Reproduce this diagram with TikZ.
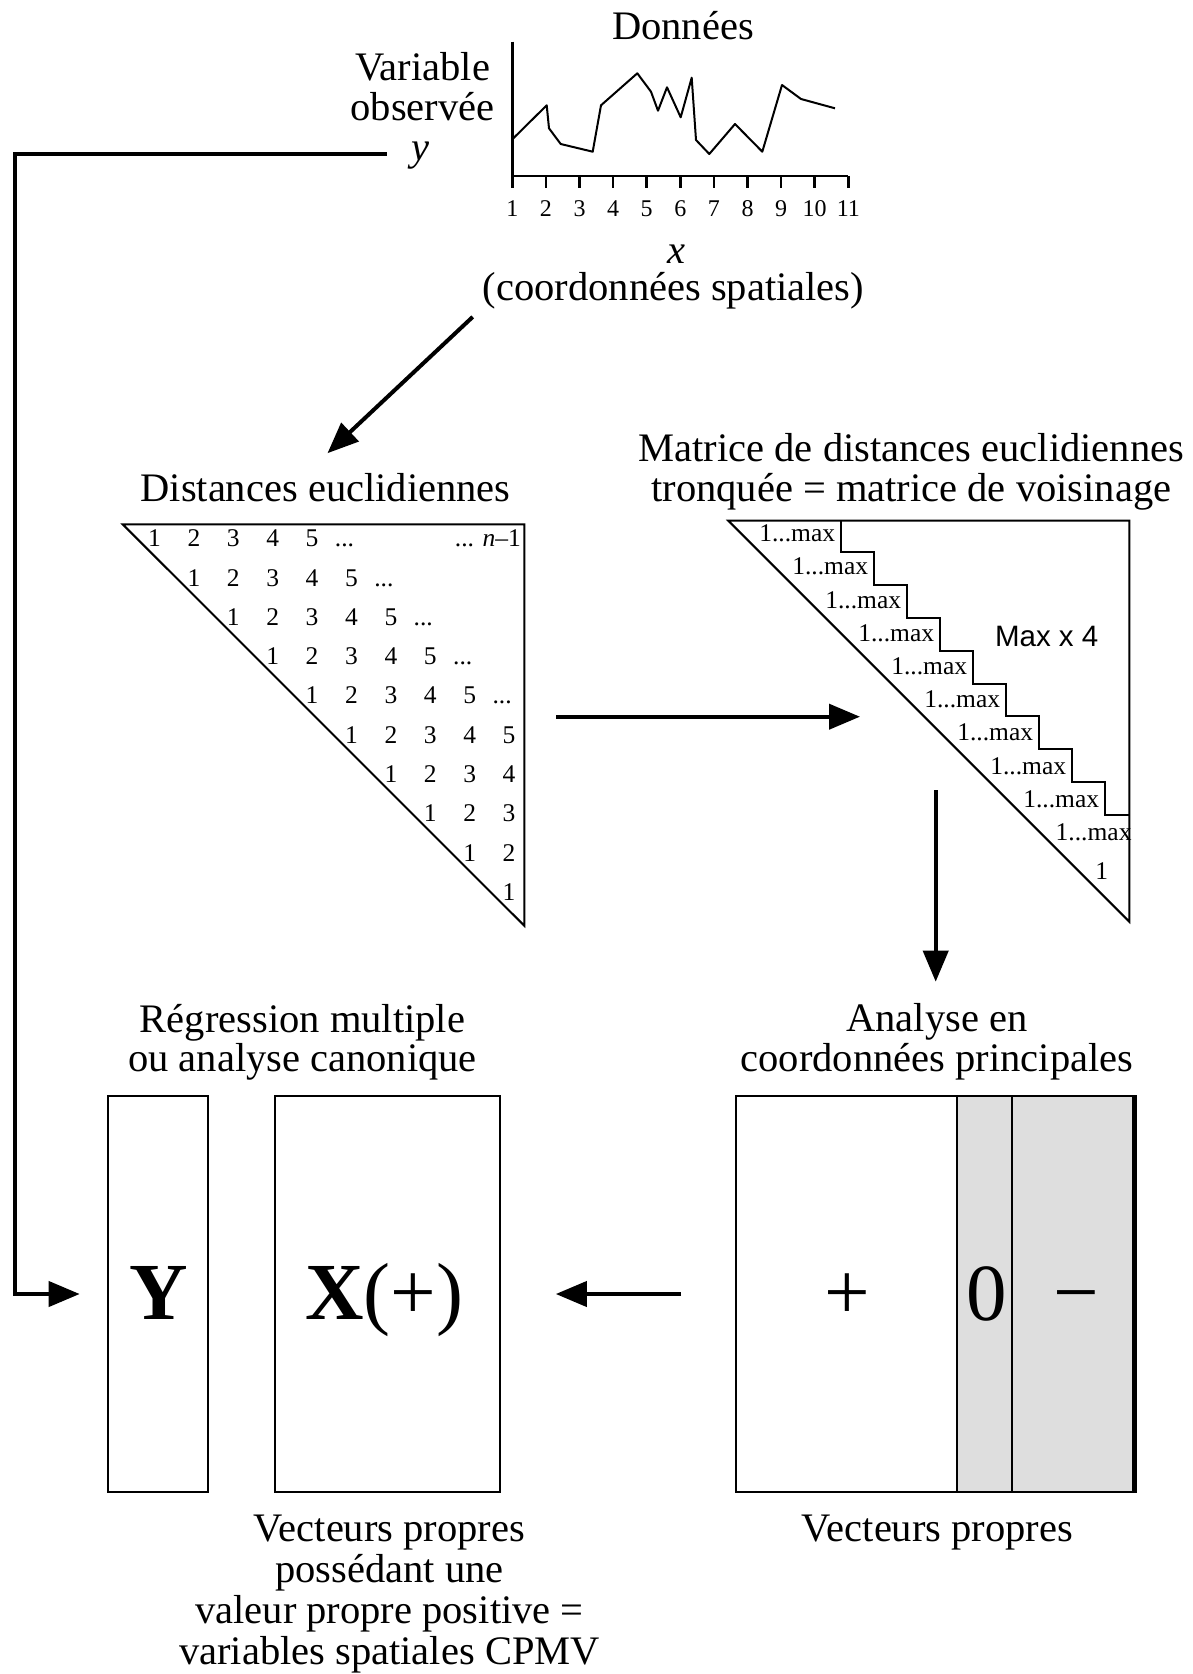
\documentclass[tikz,border=0pt]{standalone}
\usepackage{fontspec}
\setmainfont{Liberation Serif}
\newfontfamily\sansf{Liberation Sans}
\usetikzlibrary{arrows.meta}
\definecolor{panelgray}{HTML}{DEDEDE}
\begin{document}
\begin{tikzpicture}[x=1pt,y=-1pt,
  lbl/.style={inner sep=0pt,anchor=base,font=\fontsize{40.5}{41}\selectfont},
  num/.style={inner sep=0pt,anchor=base,font=\fontsize{25.5}{26}\selectfont},
  ticklbl/.style={inner sep=0pt,anchor=base,font=\fontsize{24}{24}\selectfont},
  bigtxt/.style={inner sep=0pt,anchor=base,font=\fontsize{81}{81}\selectfont},
  thinline/.style={line width=2pt},
  arr/.style={line width=4pt,-{Triangle[length=31pt,width=25pt]}},
  boxst/.style={draw,line width=2pt,inner sep=0pt,anchor=north west,minimum width=#1,minimum height=396pt},
]
\useasboundingbox (0,0) rectangle (1192,1674);

% ---------- top: data plot ----------
\node[lbl] (donnees) at (683,39.5) {Données};
\node[lbl] (var1) at (422.5,80) {Variable};
\node[lbl] (var2) at (422.5,120) {observée};
\node[lbl] (vary) at (420,160) {\itshape y};
\node[lbl] (varx) at (676.7,263) {\itshape x};
\node[lbl] (coord) at (673.5,300.5) {(coordonnées spatiales)};

\draw[line width=2.6pt] (512.3,41.7) -- (512.3,176) -- (848.3,176);
\foreach \k in {0,...,10} \draw[line width=2.5pt] (512.3+33.6*\k,176) -- (512.3+33.6*\k,188);
\foreach \k [evaluate=\k as \xx using 512.3+33.6*(\k-1)] in {1,...,11}
  \node[ticklbl] (t\k) at (\xx,216) {\k};
\draw[line width=2pt,line join=round] plot coordinates {(512.3,139.3) (546.7,105.3) (549,128.3) (560.7,144) (592.7,151.7) (601,105.3) (637.3,73.3) (651,91.7) (658,110.7) (667,87.3) (680.7,117.3) (691.7,77.7) (696,140) (709.3,154) (735,124) (762.3,151.7) (782,85) (801,99) (835,108.3)};

% ---------- left triangle ----------
\node[lbl] (dist) at (325.5,501.5) {Distances euclidiennes};
\draw[thinline] (122.7,524.3) -- (524.3,524.3) -- (524.3,925.7) -- cycle;
\foreach \k in {0,...,9} {
  \foreach \m in {1,...,5} {
    \pgfmathtruncatemacro{\cc}{\k+\m-1}
    \ifnum\cc<10 \node[num] (d\k-\m) at (154.5+39.4*\cc,546.7+39.3*\k) {\m};\fi
  }
  \pgfmathtruncatemacro{\cc}{\k+5}
  \ifnum\cc<10 \node[num] (e\k) at (147.5+39.4*\cc,546.7+39.3*\k) {...};\fi
}
\node[num,anchor=base east] (nm1) at (521,546.7) {... \itshape n\upshape –1};

% ---------- right triangle ----------
\node[lbl] (mat1) at (911.3,461) {Matrice de distances euclidiennes};
\node[lbl] (mat2) at (911.3,501.5) {tronquée = matrice de voisinage};
\draw[thinline] (728.3,520.7) -- (1129.3,520.7) -- (1129.3,921.7) -- cycle;
\draw[thinline] (841.3,520.7) |- (874.3,552.3) |- (907.3,585.1) |- (940.3,617.9) |- (973.3,650.7) |- (1006.3,683.5) |- (1039.3,716.3) |- (1072.3,749.1) |- (1105.3,781.9) |- (1129.3,814.7);
\foreach \i in {0,...,8}
  \node[num,anchor=base east] (mx\i) at (835.3+33*\i,541.7+33.2*\i) {1...max};
\node[num,anchor=base east] (mx9) at (1131.7,840.5) {1...max};
\node[num] (one) at (1101.7,879.3) {1};
\node[inner sep=0pt,anchor=base,font=\sansf\fontsize{29.5}{30}\selectfont] (maxx) at (1046.7,646.7) {Max x 4};

% ---------- bottom boxes ----------
\node[lbl] (reg1) at (302.5,1032.7) {Régression multiple};
\node[lbl] (reg2) at (302.5,1071.7) {ou analyse canonique};
\node[lbl] (acp1) at (937,1031.7) {Analyse en};
\node[lbl] (acp2) at (937,1071.7) {coordonnées principales};

\node[boxst=100.3pt] (ybox) at (106.7,1095) {};
\node[boxst=225pt] (xbox) at (274.3,1095) {};
\fill[panelgray] (956.7,1095) rectangle (1135,1491);
\node[boxst=400pt] (pcoa) at (735,1095) {};
\draw[thinline] (956.7,1095) -- (956.7,1491);
\draw[thinline] (1011.7,1095) -- (1011.7,1491);
\draw[line width=3.5pt] (1134,1095) -- (1134,1491);

\node[bigtxt] (ylab) at (159.2,1319) {\bfseries Y};
\node[bigtxt] (xlab) at (384.2,1319) {{\bfseries X}(+)};
\node[bigtxt] (plus) at (847,1319) {+};
\node[bigtxt] (zero) at (987,1320) {0};
\node[bigtxt] (minus) at (1076,1319) {−};

\node[lbl] (vp1) at (389.5,1541) {Vecteurs propres};
\node[lbl] (vp2) at (389.5,1582.5) {possédant une};
\node[lbl] (vp3) at (389.5,1623) {valeur propre positive =};
\node[lbl] (vp4) at (389.5,1664.5) {variables spatiales CPMV};
\node[lbl] (vpr) at (937.5,1541) {Vecteurs propres};

% ---------- arrows ----------
\coordinate (a1s) at (472.7,316.9);
\draw[arr] (a1s) -- ([shift={(2,-20)}]dist.north);
\coordinate (a2s) at (556,716.7);
\coordinate (a2e) at (860,716.7);
\draw[arr] (a2s) -- (a2e);
\coordinate (a3s) at (935.7,790);
\coordinate (a3e) at (935.7,981.7);
\draw[arr] (a3s) -- (a3e);
\draw[arr] ([xshift=-54pt]pcoa.west) -- ([xshift=54.5pt]xbox.east);
\coordinate (fbs) at (386.7,154.3);
\draw[arr] (fbs) -- (14.5,154.3) |- ([xshift=-27pt]ybox.west);
\end{tikzpicture}
\end{document}
